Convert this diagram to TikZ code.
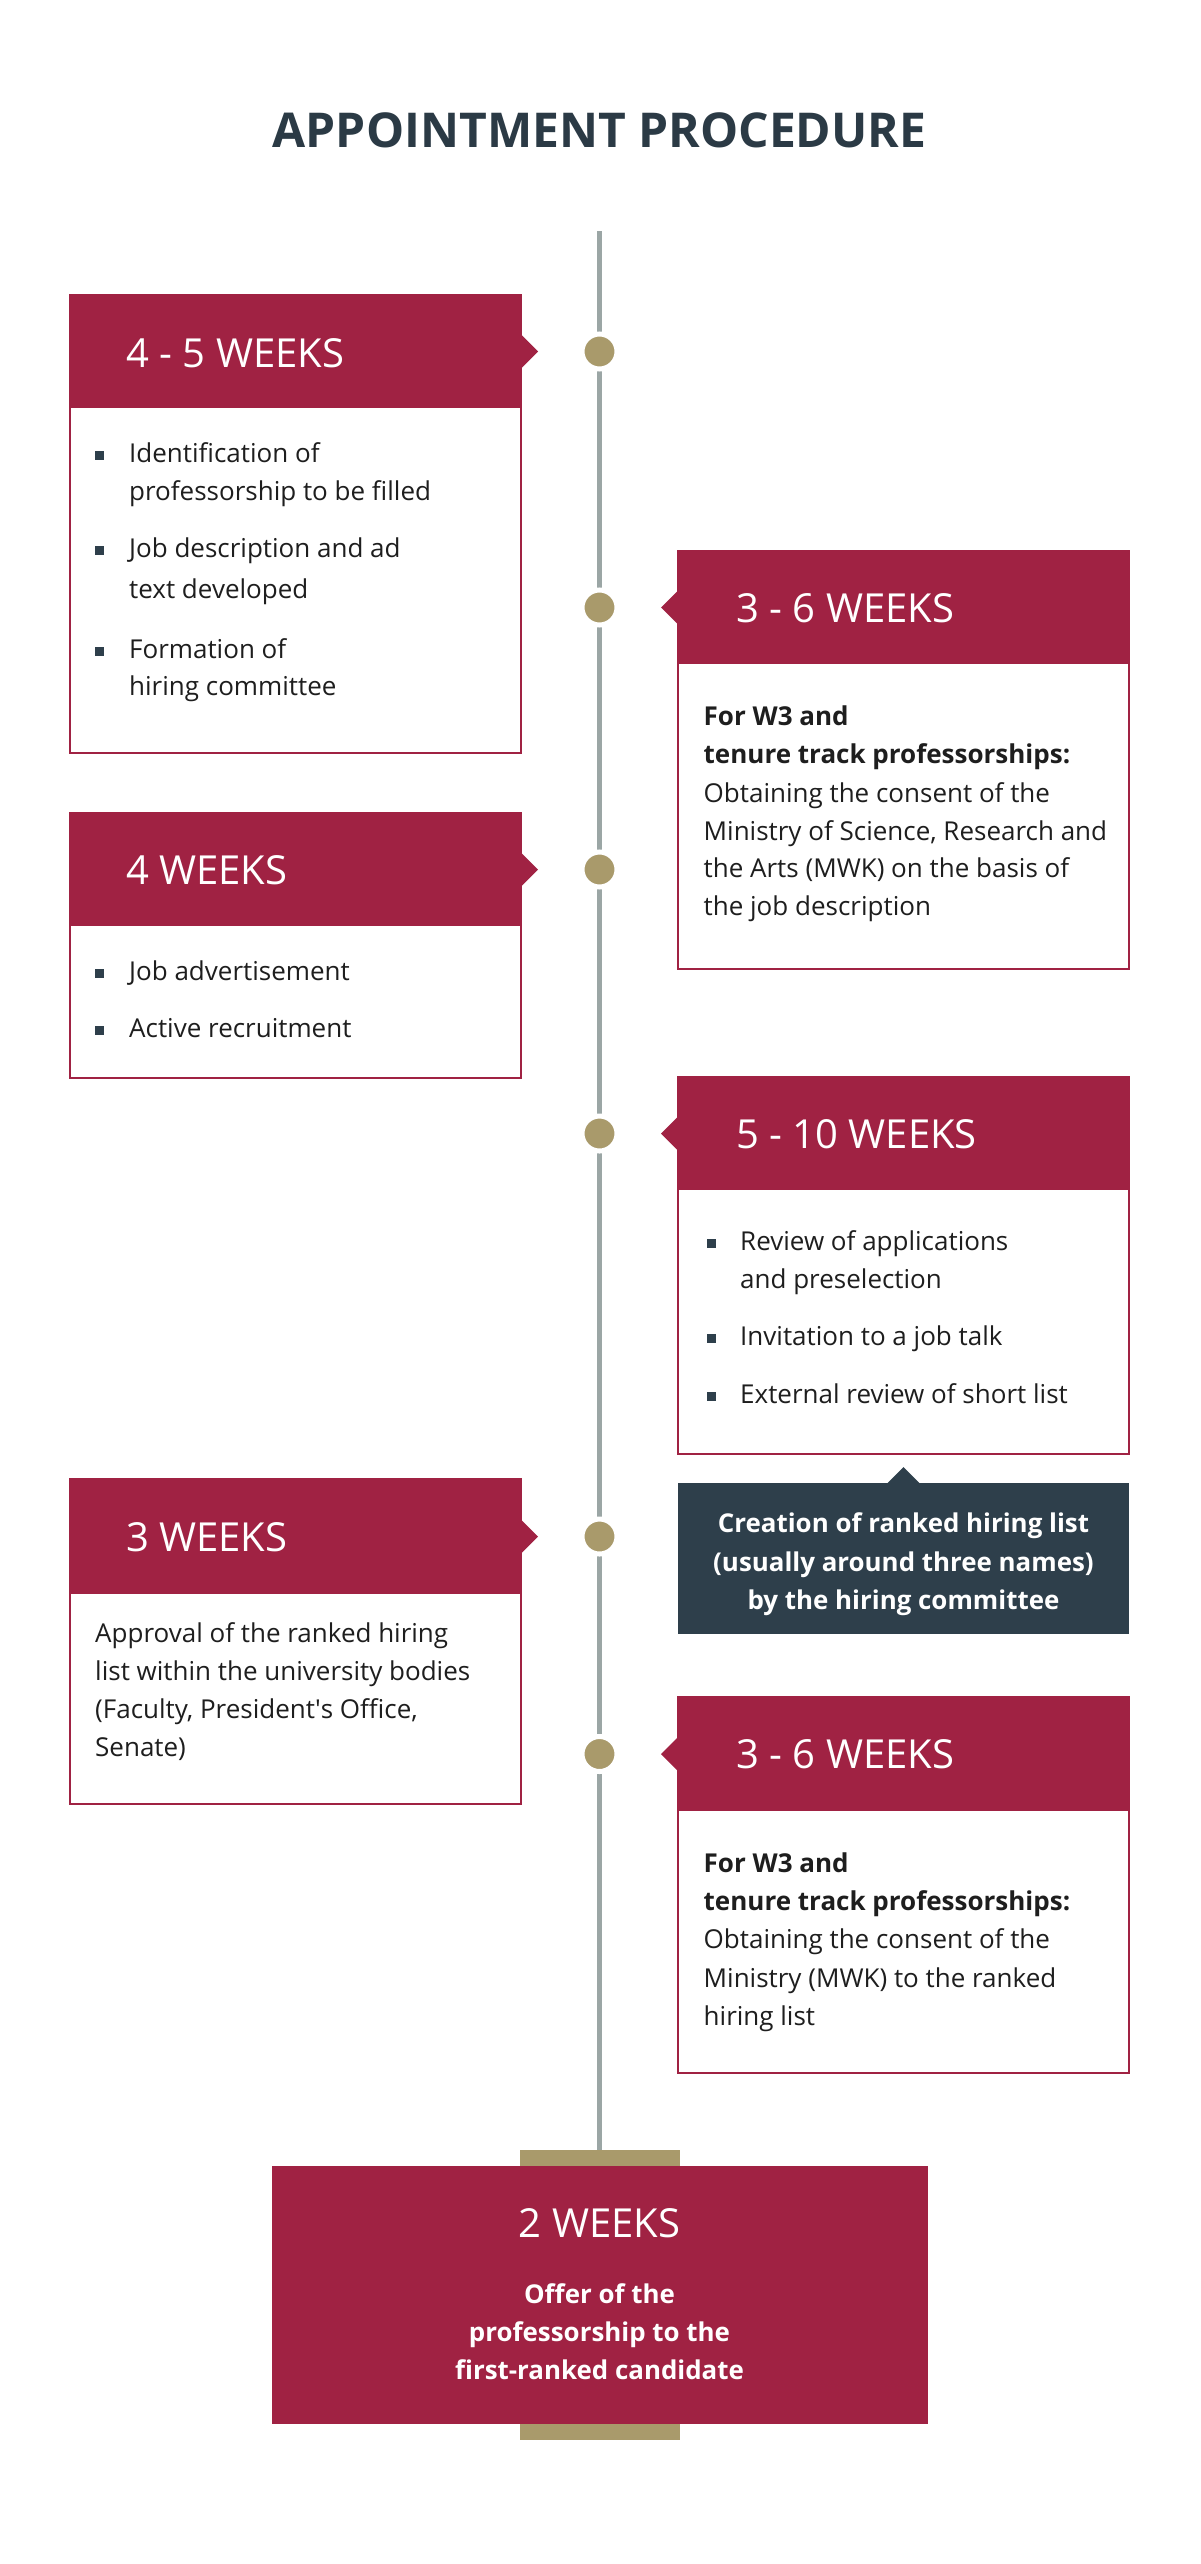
\documentclass[tikz,border=0pt]{standalone}
\usepackage{fontspec}
\setmainfont{Open Sans}
\definecolor{crim}{HTML}{A02243}
\definecolor{tanc}{HTML}{A99A6B}
\definecolor{tline}{HTML}{9BA6A5}
\definecolor{slate}{HTML}{2E3F4B}
\definecolor{ink}{HTML}{1E1E1E}
\definecolor{ttl}{HTML}{2B3A45}
\tikzset{
  bodybox/.style={draw=crim, line width=2pt, fill=white, anchor=north west, inner sep=0pt, outer sep=0pt, minimum width=451pt},
  hdrbox/.style={fill=crim, anchor=north west, inner sep=0pt, outer sep=0pt, minimum width=451pt},
  hdrtxt/.style={anchor=base west, inner sep=0pt, text=white, font=\fontsize{40}{44}\selectfont},
  txt/.style={anchor=base west, inner sep=0pt, text=ink, font=\fontsize{26}{38}\selectfont},
  btxt/.style={anchor=base west, inner sep=0pt, text=ink, font=\fontsize{26}{38}\selectfont\bfseries},
  wtxt/.style={anchor=base, inner sep=0pt, text=white, font=\fontsize{25.9}{38}\selectfont\bfseries},
  bul/.style={fill=slate, inner sep=0pt, minimum size=9pt},
  tldot/.style={circle, fill=tanc, draw=white, line width=5pt, minimum size=35pt, inner sep=0pt},
  tab/.style={fill=tanc, inner sep=0pt, outer sep=0pt, minimum width=160pt, minimum height=16pt},
}
\begin{document}
\begin{tikzpicture}[x=1pt,y=-1pt]
\useasboundingbox[fill=white] (0,0) rectangle (1200,2564);

% title
\node[anchor=base, inner sep=0pt, text=ttl, font=\fontsize{48}{56}\selectfont\bfseries] (title) at (599.5,147) {APPOINTMENT PROCEDURE};

% timeline
\coordinate (tltop) at (599.5,231);
\node[tab, anchor=south] (tabtop) at (599.5,2166) {};
\draw[tline, line width=5pt] (tltop) -- (tabtop.north);

% ---------- box 1 ----------
\node[bodybox, minimum height=458pt] (b1) at (70,295) {};
\node[hdrbox, minimum height=113pt] (h1) at (70,295) {};
\fill[crim] (h1.east) ++(0,-17) -- ++(17,17) -- ++(-17,17) -- cycle;
\node[hdrtxt] (h1t) at (126,367) {4 - 5 WEEKS};
\node[bul] (b1u1) at (99.5,455) {};
\node[txt] (b1l1) at (129,462) {Identification of};
\node[txt] (b1l2) at (129,500) {professorship to be filled};
\node[bul] (b1u2) at (99.5,550) {};
\node[txt] (b1l3) at (129,557) {Job description and ad};
\node[txt] (b1l4) at (129,598) {text developed};
\node[bul] (b1u3) at (99.5,651) {};
\node[txt] (b1l5) at (129,658) {Formation of};
\node[txt] (b1l6) at (129,695) {hiring committee};

% ---------- box 2 ----------
\node[bodybox, minimum height=418pt] (b2) at (678,551) {};
\node[hdrbox, minimum height=113pt] (h2) at (678,551) {};
\fill[crim] (h2.west) ++(0,-17) -- ++(-17,17) -- ++(17,17) -- cycle;
\node[hdrtxt] (h2t) at (736,622) {3 - 6 WEEKS};
\node[btxt] (b2l1) at (703.5,725) {For W3 and};
\node[btxt] (b2l2) at (703.5,763) {tenure track professorships:};
\node[txt] (b2l3) at (703.5,802) {Obtaining the consent of the};
\node[txt] (b2l4) at (703.5,840) {Ministry of Science, Research and};
\node[txt] (b2l5) at (703.5,877) {the Arts (MWK) on the basis of};
\node[txt] (b2l6) at (703.5,915) {the job description};

% ---------- box 3 ----------
\node[bodybox, minimum height=265pt] (b3) at (70,813) {};
\node[hdrbox, minimum height=113pt] (h3) at (70,813) {};
\fill[crim] (h3.east) ++(0,-17) -- ++(17,17) -- ++(-17,17) -- cycle;
\node[hdrtxt] (h3t) at (126,884) {4 WEEKS};
\node[bul] (b3u1) at (99.5,973) {};
\node[txt] (b3l1) at (129,980) {Job advertisement};
\node[bul] (b3u2) at (99.5,1030) {};
\node[txt] (b3l2) at (129,1037) {Active recruitment};

% ---------- box 4 ----------
\node[bodybox, minimum height=377pt] (b4) at (678,1077) {};
\node[hdrbox, minimum height=113pt] (h4) at (678,1077) {};
\fill[crim] (h4.west) ++(0,-17) -- ++(-17,17) -- ++(17,17) -- cycle;
\node[hdrtxt] (h4t) at (736,1148) {5 - 10 WEEKS};
\node[bul] (b4u1) at (711,1243) {};
\node[txt] (b4l1) at (740,1250) {Review of applications};
\node[txt] (b4l2) at (740,1288) {and preselection};
\node[bul] (b4u2) at (711,1338) {};
\node[txt] (b4l3) at (740,1345) {Invitation to a job talk};
\node[bul] (b4u3) at (711,1396) {};
\node[txt] (b4l4) at (740,1403) {External review of short list};

% ---------- dark note ----------
\node[fill=slate, anchor=north west, inner sep=0pt, outer sep=0pt, minimum width=451pt, minimum height=151pt] (note) at (678,1483) {};
\fill[slate] (note.north) ++(-16,0) -- ++(16,-16) -- ++(16,16) -- cycle;
\node[wtxt] (nl1) at (903.5,1532) {Creation of ranked hiring list};
\node[wtxt] (nl2) at (903.5,1571) {(usually around three names)};
\node[wtxt] (nl3) at (903.5,1609) {by the hiring committee};

% ---------- box 5 ----------
\node[bodybox, minimum height=325pt] (b5) at (70,1479) {};
\node[hdrbox, minimum height=115pt] (h5) at (70,1479) {};
\fill[crim] (h5.east) ++(0,-17) -- ++(17,17) -- ++(-17,17) -- cycle;
\node[hdrtxt] (h5t) at (126,1551) {3 WEEKS};
\node[txt] (b5l1) at (95,1642) {Approval of the ranked hiring};
\node[txt] (b5l2) at (95,1680) {list within the university bodies};
\node[txt] (b5l3) at (95,1718) {(Faculty, President\textquotesingle s Office,};
\node[txt] (b5l4) at (95,1756) {Senate)};

% ---------- box 6 ----------
\node[bodybox, minimum height=376pt] (b6) at (678,1697) {};
\node[hdrbox, minimum height=114pt] (h6) at (678,1697) {};
\fill[crim] (h6.west) ++(0,-17) -- ++(-17,17) -- ++(17,17) -- cycle;
\node[hdrtxt] (h6t) at (736,1768) {3 - 6 WEEKS};
\node[btxt] (b6l1) at (703.5,1872) {For W3 and};
\node[btxt] (b6l2) at (703.5,1910) {tenure track professorships:};
\node[txt] (b6l3) at (703.5,1948) {Obtaining the consent of the};
\node[txt] (b6l4) at (703.5,1987) {Ministry (MWK) to the ranked};
\node[txt] (b6l5) at (703.5,2025) {hiring list};

% ---------- dots ----------
\node[tldot] (d1) at (h1.east -| tltop) {};
\node[tldot] (d2) at (h2.west -| tltop) {};
\node[tldot] (d3) at (h3.east -| tltop) {};
\node[tldot] (d4) at (h4.west -| tltop) {};
\node[tldot] (d5) at (h5.east -| tltop) {};
\node[tldot] (d6) at (h6.west -| tltop) {};

% ---------- final box ----------
\node[fill=crim, anchor=north, inner sep=0pt, outer sep=0pt, minimum width=656pt, minimum height=258pt] (fin) at (599.5,2166) {};
\node[tab, anchor=north] (tabbot) at (fin.south) {};
\node[anchor=base, inner sep=0pt, text=white, font=\fontsize{40}{44}\selectfont] (fint) at (599.5,2237) {2 WEEKS};
\node[wtxt] (fl1) at (599.5,2303) {Offer of the};
\node[wtxt] (fl2) at (599.5,2341) {professorship to the};
\node[wtxt] (fl3) at (599.5,2379) {first-ranked candidate};
\end{tikzpicture}
\end{document}
